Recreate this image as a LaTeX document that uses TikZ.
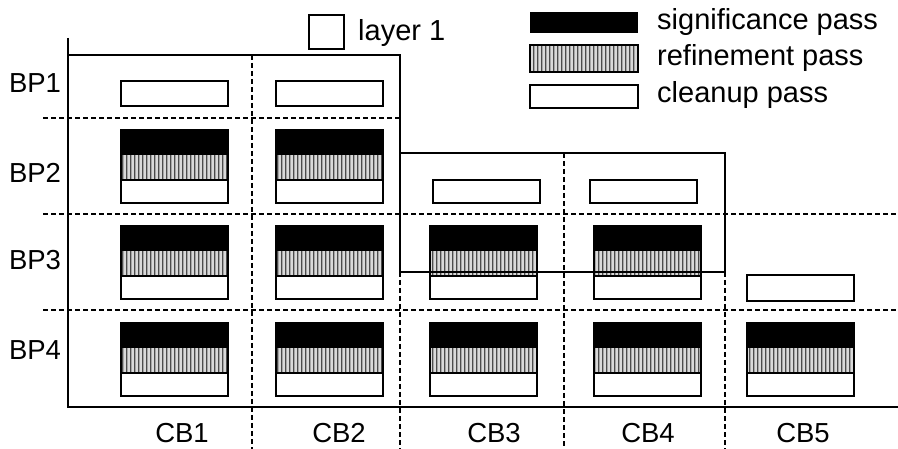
\documentclass[tikz,border=0pt]{standalone}
\usepackage{fontspec}
\setmainfont{Liberation Sans}
\usetikzlibrary{patterns.meta}
\tikzdeclarepattern{name=refstripes, type=uncolored,
  bounding box={(0pt,0pt) and (3.6pt,1pt)}, tile size={(3.6pt,1pt)},
  code={\fill (0pt,0pt) rectangle (1.6pt,1pt);}}
\tikzset{
  axisline/.style={line width=2pt},
  layerline/.style={line width=1.6pt},
  gridline/.style={line width=1.3pt, dash pattern=on 5pt off 3pt},
  boxline/.style={line width=1.5pt},
  lbl/.style={font=\fontsize{27.5}{32}\selectfont, inner sep=0pt},
  leg/.style={font=\fontsize{29}{34}\selectfont, inner sep=0pt, anchor=west},
}
\newcommand{\cleanbox}[3]{%
  \draw[boxline, fill=white] (#1,#2) rectangle (#1+107,#3);}
\newcommand{\refpart}[3]{%
  \fill[gray!30] (#1,#2) rectangle (#1+107,#3);
  \fill[pattern=refstripes, pattern color=black] (#1,#2) rectangle (#1+107,#3);}
\newcommand{\passbox}[2]{%
  \fill[black] (#1,#2) rectangle (#1+107,#2+25);
  \refpart{#1}{#2+25}{#2+50}
  \draw[boxline] (#1,#2) rectangle (#1+107,#2+73);
  \draw[boxline] (#1,#2+50) -- (#1+107,#2+50);}
\begin{document}
\begin{tikzpicture}[x=1pt,y=-1pt]
\useasboundingbox (0,0) rectangle (898,449);
% grid dashed lines
\draw[gridline] (43,118) -- (400,118);
\draw[gridline] (43,214) -- (898,214);
\draw[gridline] (43,310) -- (898,310);
\draw[gridline] (252,55) -- (252,449);
\draw[gridline] (400,272) -- (400,449);
\draw[gridline] (564,153) -- (564,449);
\draw[gridline] (725,272) -- (725,449);
% boxes
\cleanbox{121}{81}{106}
\cleanbox{276}{81}{106}
\passbox{121}{130}
\passbox{276}{130}
\cleanbox{433}{180}{203}
\cleanbox{590}{180}{203}
\passbox{121}{226}
\passbox{276}{226}
\passbox{430}{226}
\passbox{594}{226}
\cleanbox{747}{275}{301}
\passbox{121}{323}
\passbox{276}{323}
\passbox{430}{323}
\passbox{594}{323}
\passbox{747}{323}
% axes and layer boundary
\draw[axisline] (68,38) -- (68,407) -- (898,407);
\draw[layerline] (68,55) -- (400,55) -- (400,272);
\draw[layerline] (400,153) -- (725,153) -- (725,272) -- (400,272);
% labels
\node[lbl] (bp1) at (35,83) {BP1};
\node[lbl] (bp2) at (35,173) {BP2};
\node[lbl] (bp3) at (35,260) {BP3};
\node[lbl] (bp4) at (35,350) {BP4};
\node[lbl] (cb1) at (182,433) {CB1};
\node[lbl] (cb2) at (339,433) {CB2};
\node[lbl] (cb3) at (494,433) {CB3};
\node[lbl] (cb4) at (648,433) {CB4};
\node[lbl] (cb5) at (803,433) {CB5};
% legend
\draw[boxline] (309,15) rectangle (344,49);
\node[leg] (l1) at (358,33) {layer 1};
\fill[black] (530,12) rectangle (638,33);
\refpart{530}{45}{72}
\draw[boxline] (530,45) rectangle (638,72);
\draw[boxline] (530,85) rectangle (638,108);
\node[leg] (ls) at (657,22) {significance pass};
\node[leg] (lr) at (657,58) {refinement pass};
\node[leg] (lc) at (657,95) {cleanup pass};
\end{tikzpicture}
\end{document}
